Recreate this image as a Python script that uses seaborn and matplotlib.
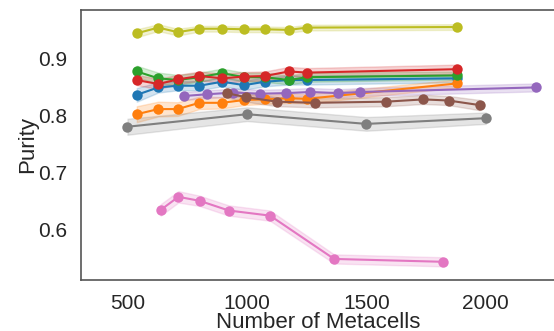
import numpy as np
import pandas as pd
import matplotlib
matplotlib.use("Agg")
import matplotlib.pyplot as plt
import seaborn as sns

# ---- data ----
methods = ["A", "B", "C", "D", "E", "F", "G", "H", "I"]

x_A = [539, 629, 710, 801, 896, 989, 1075, 1175, 1253, 1879]
y_A = [0.837, 0.850, 0.853, 0.853, 0.860, 0.854, 0.860, 0.863, 0.863, 0.866]
e_A = [0.012, 0.009, 0.008, 0.008, 0.008, 0.008, 0.008, 0.008, 0.008, 0.007]

x_B = [539, 629, 710, 801, 896, 989, 1075, 1175, 1253, 1879]
y_B = [0.803, 0.812, 0.812, 0.823, 0.823, 0.828, 0.829, 0.831, 0.830, 0.857]
e_B = [0.014, 0.013, 0.012, 0.011, 0.010, 0.009, 0.008, 0.008, 0.008, 0.007]

x_C = [539, 629, 710, 801, 896, 989, 1075, 1175, 1253, 1879]
y_C = [0.878, 0.866, 0.863, 0.868, 0.875, 0.868, 0.868, 0.863, 0.868, 0.871]
e_C = [0.010, 0.010, 0.009, 0.008, 0.008, 0.008, 0.008, 0.008, 0.008, 0.007]

x_D = [539, 629, 710, 801, 896, 989, 1075, 1175, 1253, 1879]
y_D = [0.863, 0.856, 0.864, 0.870, 0.866, 0.869, 0.870, 0.878, 0.876, 0.882]
e_D = [0.009, 0.009, 0.008, 0.008, 0.008, 0.008, 0.008, 0.008, 0.008, 0.008]

x_E = [738, 834, 943, 1055, 1164, 1265, 1383, 1474, 2210]
y_E = [0.835, 0.838, 0.841, 0.839, 0.840, 0.842, 0.840, 0.842, 0.850]
e_E = [0.007, 0.007, 0.007, 0.007, 0.007, 0.007, 0.007, 0.007, 0.007]

x_F = [915, 995, 1125, 1285, 1583, 1739, 1844, 1974]
y_F = [0.840, 0.833, 0.825, 0.823, 0.825, 0.829, 0.827, 0.819]
e_F = [0.008, 0.008, 0.008, 0.008, 0.008, 0.008, 0.008, 0.009]

x_G = [639, 713, 802, 924, 1097, 1365, 1819]
y_G = [0.635, 0.658, 0.651, 0.634, 0.625, 0.549, 0.544]
e_G = [0.010, 0.010, 0.009, 0.009, 0.009, 0.008, 0.008]

x_H = [500, 1000, 1500, 2000]
y_H = [0.781, 0.803, 0.786, 0.796]
e_H = [0.014, 0.012, 0.012, 0.010]

x_I = [539, 629, 710, 801, 896, 989, 1075, 1175, 1253, 1879]
y_I = [0.945, 0.955, 0.947, 0.953, 0.953, 0.952, 0.952, 0.951, 0.955, 0.956]
e_I = [0.007, 0.006, 0.006, 0.005, 0.005, 0.005, 0.005, 0.005, 0.005, 0.005]

series = {
    "A": (x_A, y_A, e_A), "B": (x_B, y_B, e_B), "C": (x_C, y_C, e_C),
    "D": (x_D, y_D, e_D), "E": (x_E, y_E, e_E), "F": (x_F, y_F, e_F),
    "G": (x_G, y_G, e_G), "H": (x_H, y_H, e_H), "I": (x_I, y_I, e_I),
}

rows = []
for m in methods:
    xs, ys, es = series[m]
    for x, y, e in zip(xs, ys, es):
        for v in (y - e, y, y + e):
            rows.append({"Method": m, "Number of Metacells": x, "Purity": v})
df = pd.DataFrame(rows)

sns.set_theme(style="white")
plt.rcParams["font.family"] = ["Liberation Sans", "DejaVu Sans"]

fig = plt.figure(figsize=(5.54, 3.31), dpi=100)
ax = fig.add_axes([0.146, 0.154, 0.856, 0.816])

sns.lineplot(data=df, x="Number of Metacells", y="Purity", hue="Method",
             hue_order=methods, palette="tab10", marker="o", markersize=7.5,
             markeredgewidth=0, errorbar=("pi", 100), linewidth=1.5,
             ax=ax, legend=False)

ax.set_xlim(305, 2290)
ax.set_ylim(0.512, 0.986)
ax.set_xticks([500, 1000, 1500, 2000])
ax.set_yticks([0.6, 0.7, 0.8, 0.9])
ax.tick_params(labelsize=15, colors="#262626", pad=4)
ax.set_xlabel("Number of Metacells", fontsize=16, labelpad=-1)
ax.set_ylabel("Purity", fontsize=16, labelpad=0)
for s in ax.spines.values():
    s.set_color("#555555")
    s.set_linewidth(1.2)

fig.savefig("out.png", dpi=100)
